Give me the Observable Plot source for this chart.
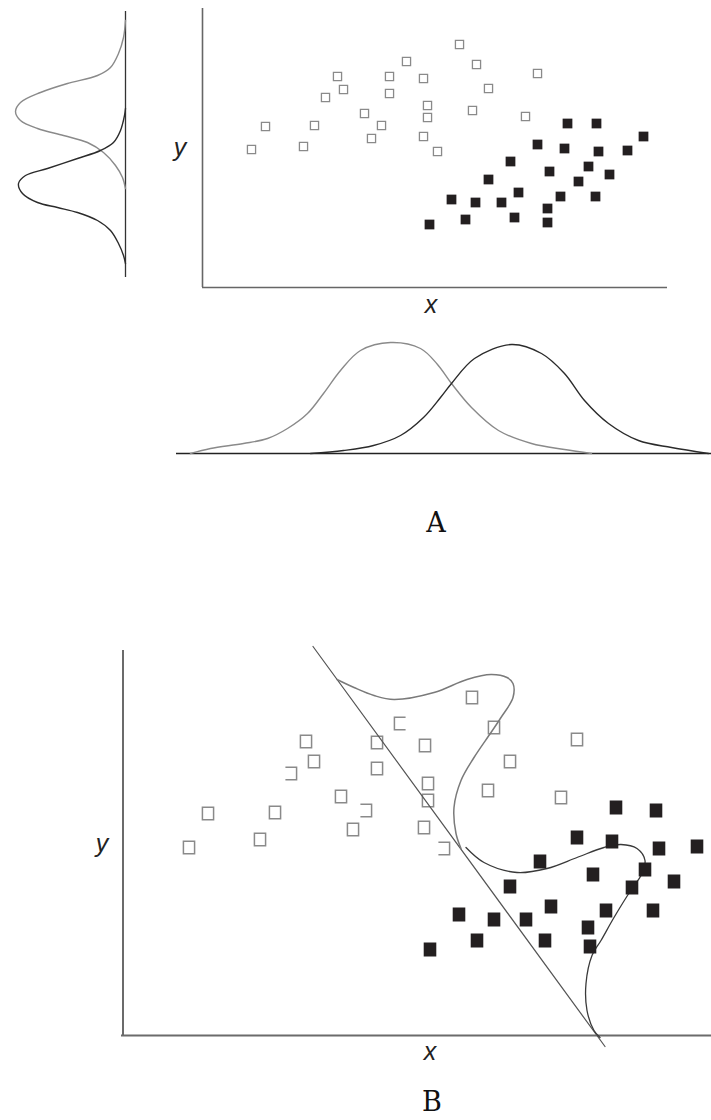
<!DOCTYPE html>
<html>
<head>
<meta charset="utf-8">
<script src="https://cdn.jsdelivr.net/npm/d3@7"></script>
<script src="https://cdn.jsdelivr.net/npm/@observablehq/plot@0.6"></script>
<style>
  html, body { margin: 0; padding: 0; background: #fff; }
  #wrap { position: relative; width: 711px; height: 1120px; overflow: hidden; background: #fff; }
  #wrap svg { position: absolute; left: 0; background: transparent !important; overflow: visible; }
  .lab { position: absolute; transform: translate(-50%, -50%); white-space: nowrap; line-height: 1; }
  .ax { font-family: "Liberation Sans", Arial, sans-serif; font-style: italic; font-size: 25px; color: #222; }
  .pan { font-family: "DejaVu Serif", "Liberation Serif", serif; font-size: 27px; color: #111; }
</style>
</head>
<body>
<div id="wrap"></div>
<script>
// ---------------- Panel A : scatter (x, y) ----------------
const aOpen = [
  [25.7,24.3],[20.4,22.6],[27.4,22.3],[13.5,21.1],[18.7,21.1],[22.1,20.9],
  [33.5,21.4],[14.1,19.8],[18.7,19.4],[28.6,19.9],[12.3,19.0],[22.5,18.2],
  [22.5,17.0],[27.0,17.7],[32.3,17.1],[16.2,17.4],[17.9,16.2],[6.3,16.1],
  [11.2,16.2],[16.9,14.9],[22.1,15.1],[23.5,13.6],[4.9,13.8],[10.1,14.1]
];
const aFilled = [
  [36.5,16.4],[39.4,16.4],[44.1,15.1],[33.5,14.3],[36.2,13.9],[39.6,13.6],
  [42.5,13.7],[30.8,12.6],[34.7,11.6],[38.6,12.1],[40.7,11.3],[28.6,10.8],
  [37.6,10.6],[31.6,9.5],[35.8,9.1],[39.3,9.1],[24.9,8.8],[27.3,8.5],
  [29.9,8.5],[34.5,7.9],[26.3,6.8],[31.2,7.0],[34.5,6.5],[22.7,6.3]
];
// ---------------- Panel A : marginal density along y (density, position) ----------------
const yDensGray = [
  [0,25.7],[0.2,24.0],[0.7,22.4],[1.5,21.0],[2.8,20.2],[5.8,19.4],[8.5,18.5],
  [10.5,17.5],[11.0,16.6],[10.5,15.7],[8.8,14.9],[6.2,14.2],[3.8,13.5],
  [2.2,12.5],[1.0,11.2],[0.3,10.0],[0,8.9]
];
const yDensBlack = [
  [0,16.9],[0.1,16.2],[0.5,14.7],[1.2,13.5],[2.5,12.7],[4.8,11.9],[7.8,10.9],
  [10.0,10.2],[10.7,9.4],[10.3,8.4],[8.8,7.5],[6.8,7.0],[4.8,6.5],[2.8,5.7],
  [1.5,4.7],[0.7,3.4],[0.2,2.2],[0,1.4]
];
// ---------------- Panel A : marginal density along x (position, density) ----------------
const xDensGray = [
  [-1.2,0],[0.8,0.5],[4.1,1.0],[6.5,1.5],[8.5,2.5],[10.5,4.0],[12.1,6.0],
  [13.8,8.3],[15.8,10.3],[18.8,11.1],[21.8,10.5],[23.5,8.9],[24.9,7.0],
  [26.9,4.6],[29.6,2.3],[32.9,1.0],[36.2,0.4],[38.9,0]
];
const xDensBlack = [
  [10.8,0],[14.1,0.3],[17.1,0.8],[19.8,1.8],[22.1,3.6],[23.8,5.6],[24.9,7.0],
  [27.2,9.5],[30.9,10.9],[33.9,10.0],[36.2,8.0],[38.2,5.3],[40.6,3.0],
  [43.6,1.3],[46.9,0.6],[50.6,0]
];
// ---------------- Panel B : scatter (x, y) ----------------
const bOpen = [
  [18.3,29.4],[19.1,27.4],[25.4,29.3],[25.4,26.7],[21.8,23.9],[23.0,20.6],
  [8.5,22.2],[15.2,22.3],[6.6,18.8],[13.7,19.6],[34.9,33.8],[37.1,30.8],
  [30.2,29.0],[45.4,29.6],[38.7,27.4],[30.5,25.2],[30.5,23.5],[36.5,24.5],
  [43.8,23.8],[30.1,20.8]
];
const bOpenLeftSide = [[16.8,26.2],[24.3,22.5],[32.1,18.7]];
const bOpenRightSide = [[27.7,31.2]];
const bFilled = [
  [30.7,8.6],[33.6,12.1],[35.4,9.5],[37.1,11.6],[38.7,14.9],[40.3,11.6],
  [42.8,12.9],[42.2,9.5],[46.5,10.8],[46.7,8.9],[48.3,12.5],[47.0,16.1],
  [50.9,14.8],[53.0,12.5],[55.1,15.4],[52.2,16.6],[49.3,22.8],[53.3,22.5],
  [45.4,19.8],[48.9,19.4],[53.6,18.7],[57.4,18.9],[41.7,17.4]
];
// ---------------- Panel B : boundaries ----------------
const bLinear = [[19.0,38.9],[48.2,-1.1]];
const bCurveGray = [
  [21.4,35.6],[23.1,34.8],[25.1,34.0],[27.1,33.6],[31.1,34.3],[34.4,35.6],
  [36.8,36.1],[38.4,35.8],[39.0,35.2],[39.0,33.8],[37.8,31.8],[36.8,30.3],
  [35.1,27.8],[33.8,25.5],[33.1,22.8],[33.3,20.2],[33.8,18.7]
];
const bCurveBlack = [
  [34.3,18.8],[36.1,17.3],[39.4,16.3],[42.4,16.7],[45.4,17.8],[48.1,18.8],
  [49.8,19.1],[51.4,18.7],[52.2,17.5],[51.8,16.0],[50.9,14.7],[49.1,11.8],
  [47.8,9.5],[46.9,8.0],[46.3,5.2],[46.4,2.5],[47.1,0.5],[47.7,-0.2]
];

// labels
const axisLabels = [
  {t: "y", cls: "ax", x: 180, y: 147},
  {t: "x", cls: "ax", x: 431, y: 304},
  {t: "A", cls: "pan", x: 436, y: 522},
  {t: "y", cls: "ax", x: 102, y: 843},
  {t: "x", cls: "ax", x: 430, y: 1051},
  {t: "B", cls: "pan", x: 432, y: 1101}
];

// custom rectangle-like symbols
function boxSymbol(aspect, kind) {
  return {
    draw(ctx, size) {
      const h = Math.sqrt(size), w = h * aspect;
      const l = -w / 2, r = w / 2, t = -h / 2, b = h / 2;
      if (kind === "openLeft") {
        ctx.moveTo(l, t); ctx.lineTo(r, t); ctx.lineTo(r, b); ctx.lineTo(l, b);
      } else if (kind === "openRight") {
        ctx.moveTo(r, t); ctx.lineTo(l, t); ctx.lineTo(l, b); ctx.lineTo(r, b);
      } else {
        ctx.moveTo(l, t); ctx.lineTo(r, t); ctx.lineTo(r, b); ctx.lineTo(l, b); ctx.closePath();
      }
    }
  };
}

const wrap = document.getElementById("wrap");
const common = {width: 711, margin: 0, style: {background: "transparent", overflow: "visible"}};
const px = d => d[0], py = d => d[1];
const GRAY = "#8a8a8a", DARK = "#231f20";

function place(svg, top) { svg.style.top = top + "px"; wrap.appendChild(svg); }

// A - left marginal
place(Plot.plot({
  ...common, height: 300,
  x: {domain: [0, 11.5], range: [125, 10], axis: null},
  y: {domain: [0, 26.6], range: [277, 11], axis: null},
  marks: [
    Plot.ruleX([0], {y1: 0, y2: 26.6, stroke: "#333", strokeWidth: 1.3}),
    Plot.line(yDensGray, {x: px, y: py, curve: "catmull-rom", stroke: GRAY, strokeWidth: 1.4}),
    Plot.line(yDensBlack, {x: px, y: py, curve: "catmull-rom", stroke: "#2b2b2b", strokeWidth: 1.4})
  ]
}), 0);

// A - scatter
place(Plot.plot({
  ...common, height: 300,
  x: {domain: [0, 46.5], range: [202, 667], axis: null},
  y: {domain: [0, 27.9], range: [287, 8], axis: null},
  marks: [
    Plot.ruleX([0], {y1: 0, y2: 27.9, stroke: "#666", strokeWidth: 1.6}),
    Plot.ruleY([0], {x1: 0, x2: 46.5, stroke: "#666", strokeWidth: 1.6}),
    Plot.dot(aOpen, {x: px, y: py, symbol: "square", r: 4.6, fill: "white", stroke: GRAY, strokeWidth: 1.3}),
    Plot.dot(aFilled, {x: px, y: py, symbol: "square", r: 5.5, fill: DARK, stroke: "none"})
  ]
}), 0);

// A - bottom marginal
place(Plot.plot({
  ...common, height: 160,
  x: {domain: [0, 46.5], range: [202, 667], axis: null},
  y: {domain: [0, 11], range: [133, 23], axis: null},
  marks: [
    Plot.ruleY([0], {x1: -2.6, x2: 50.9, stroke: "#222", strokeWidth: 1.6}),
    Plot.line(xDensGray, {x: px, y: py, curve: "catmull-rom", stroke: GRAY, strokeWidth: 1.4}),
    Plot.line(xDensBlack, {x: px, y: py, curve: "catmull-rom", stroke: "#2b2b2b", strokeWidth: 1.4})
  ]
}), 320);

// B - scatter with boundaries
const bx = {domain: [0, 58.85], range: [122.5, 711], axis: null};
const by = {domain: [0, 38.5], range: [475, 90], axis: null};
place(Plot.plot({
  ...common, height: 560,
  x: bx, y: by,
  marks: [
    Plot.ruleX([0], {y1: 0, y2: 38.5, stroke: "#6b6b6b", strokeWidth: 2}),
    Plot.ruleY([0], {x1: -0.15, x2: 58.85, stroke: "#6b6b6b", strokeWidth: 2}),
    Plot.dot(bOpen, {x: px, y: py, symbol: boxSymbol(0.9, "box"), r: 7.0, fill: "none", stroke: GRAY, strokeWidth: 1.5}),
    Plot.dot(bOpenLeftSide, {x: px, y: py, symbol: boxSymbol(0.9, "openLeft"), r: 7.0, fill: "none", stroke: GRAY, strokeWidth: 1.5}),
    Plot.dot(bOpenRightSide, {x: px, y: py, symbol: boxSymbol(0.9, "openRight"), r: 7.0, fill: "none", stroke: GRAY, strokeWidth: 1.5}),
    Plot.line(bLinear, {x: px, y: py, stroke: "#555", strokeWidth: 1.2}),
    Plot.line(bCurveGray, {x: px, y: py, curve: "catmull-rom", stroke: "#7a7a7a", strokeWidth: 1.5}),
    Plot.line(bCurveBlack, {x: px, y: py, curve: "catmull-rom", stroke: "#3a3a3a", strokeWidth: 1.3}),
    Plot.dot(bFilled, {x: px, y: py, symbol: boxSymbol(0.9, "box"), r: 7.9, fill: DARK, stroke: "none"})
  ]
}), 560);

for (const l of axisLabels) {
  const s = document.createElement("span");
  s.className = "lab " + l.cls;
  s.textContent = l.t;
  s.style.left = l.x + "px";
  s.style.top = l.y + "px";
  wrap.appendChild(s);
}
</script>
</body>
</html>
